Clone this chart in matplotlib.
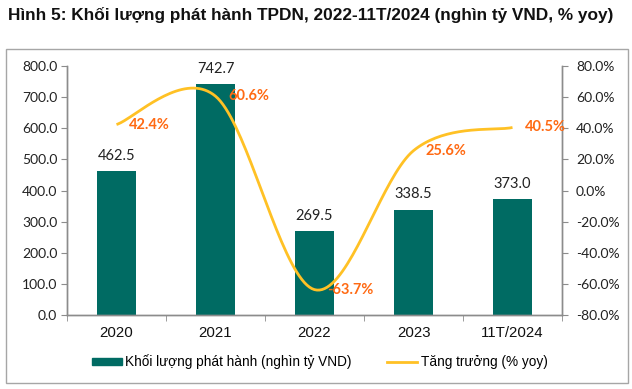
import matplotlib
matplotlib.use("Agg")
import matplotlib.pyplot as plt
import numpy as np
from matplotlib.patches import Rectangle
from matplotlib.lines import Line2D

categories = ["2020", "2021", "2022", "2023", "11T/2024"]
volume = [462.5, 742.7, 269.5, 338.5, 373.0]
growth = [42.4, 60.6, -63.7, 25.6, 40.5]
left_ticks = [0, 100, 200, 300, 400, 500, 600, 700, 800]
right_ticks = [-80, -60, -40, -20, 0, 20, 40, 60, 80]

title = "Hình 5: Khối lượng phát hành TPDN, 2022-11T/2024 (nghìn tỷ VND, % yoy)"
bar_label = "Khối lượng phát hành (nghìn tỷ VND)"
line_label = "Tăng trưởng (% yoy)"

BAR_C = "#006B63"
LINE_C = "#FFC125"
LAB_C = "#FF6A13"
AX_C = "#8C8C8C"
num_font = ["Lato", "DejaVu Sans"]
arial = ["Liberation Sans", "DejaVu Sans"]

fig = plt.figure(figsize=(6.32, 3.89), dpi=100)
W, H = 632, 389
ax = fig.add_axes([67 / W, 1 - 315 / H, (562 - 67) / W, (315 - 66) / H])
ax2 = ax.twinx()

x = np.arange(len(categories))
ax.bar(x, volume, width=0.4, color=BAR_C, zorder=2)
ax.set_xlim(-0.5, len(categories) - 0.5)
ax.set_ylim(0, 800)
ax.set_yticks(left_ticks)
ax.set_yticklabels([f"{v:.1f}" for v in left_ticks], fontfamily=num_font, fontsize=10, color="#222222")
ax.set_xticks(x)
ax.set_xticklabels(categories, fontfamily=arial, fontsize=10.8, color="#111111")
ax.tick_params(axis="x", length=0, pad=8)
ax.set_xticks(np.arange(len(categories) + 1) - 0.5, minor=True)
ax.tick_params(axis="x", which="minor", length=4, color=AX_C, direction="out")
ax.tick_params(axis="y", length=4, color=AX_C, direction="out", pad=3)

for xi, v in zip(x, volume):
    ax.annotate(f"{v:.1f}", (xi, v), xytext=(0, 6), textcoords="offset points",
                ha="center", va="bottom", fontfamily=num_font, fontsize=10.5, color="#222222")

# smoothed line (Excel-like Bezier smoothing)
gy = np.array(growth, dtype=float)
gx = x.astype(float)
P = np.column_stack([gx, gy])
Pext = np.vstack([P[0], P, P[-1]])
curve = []
t = np.linspace(0, 1, 40)
for i in range(len(P) - 1):
    p0, p3 = P[i], P[i + 1]
    c1 = p0 + (Pext[i + 2] - Pext[i]) / 6.0
    c2 = p3 - (Pext[i + 3] - Pext[i + 1]) / 6.0
    seg = ((1 - t) ** 3)[:, None] * p0 + (3 * (1 - t) ** 2 * t)[:, None] * c1 \
        + (3 * (1 - t) * t ** 2)[:, None] * c2 + (t ** 3)[:, None] * p3
    curve.append(seg)
curve = np.vstack(curve)
ax2.plot(curve[:, 0], curve[:, 1], color=LINE_C, lw=2, zorder=3, solid_capstyle="butt")
ax2.set_ylim(-80, 80)
ax2.set_yticks(right_ticks)
ax2.set_yticklabels([f"{v:.1f}%" for v in right_ticks], fontfamily=num_font, fontsize=10, color="#222222")
ax2.tick_params(axis="y", length=4, color=AX_C, direction="out", pad=6)

for xi, v in zip(gx, growth):
    ax2.annotate(f"{v:.1f}%", (xi, v), xytext=(9, 0), textcoords="offset points",
                 ha="left", va="center", fontfamily=num_font, fontsize=10.5,
                 fontweight="bold", color=LAB_C)

for a in (ax, ax2):
    a.spines["top"].set_visible(False)
    for s in ("left", "right", "bottom"):
        a.spines[s].set_color(AX_C)
        a.spines[s].set_linewidth(1)

# border
fig.patches.append(Rectangle((6 / W, 1 - 383 / H), (628 - 6) / W, (383 - 49) / H,
                             transform=fig.transFigure, fill=False, edgecolor="#A6A6A6", lw=1))

fig.text(8 / W, 1 - 15 / H, title, fontfamily=arial, fontsize=12.4, fontweight="bold",
         ha="left", va="center", color="#111111")

handles = [Rectangle((0, 0), 1, 1, color=BAR_C), Line2D([0], [0], color=LINE_C, lw=2)]
leg = fig.legend(handles, [bar_label, line_label], loc="center", bbox_to_anchor=(0.506, 1 - 362 / H),
                 ncol=2, frameon=False, prop={"family": arial, "size": 9.8},
                 handlelength=2.2, handleheight=0.45, columnspacing=2.6, handletextpad=0.25)

fig.savefig("out.png", dpi=100)
